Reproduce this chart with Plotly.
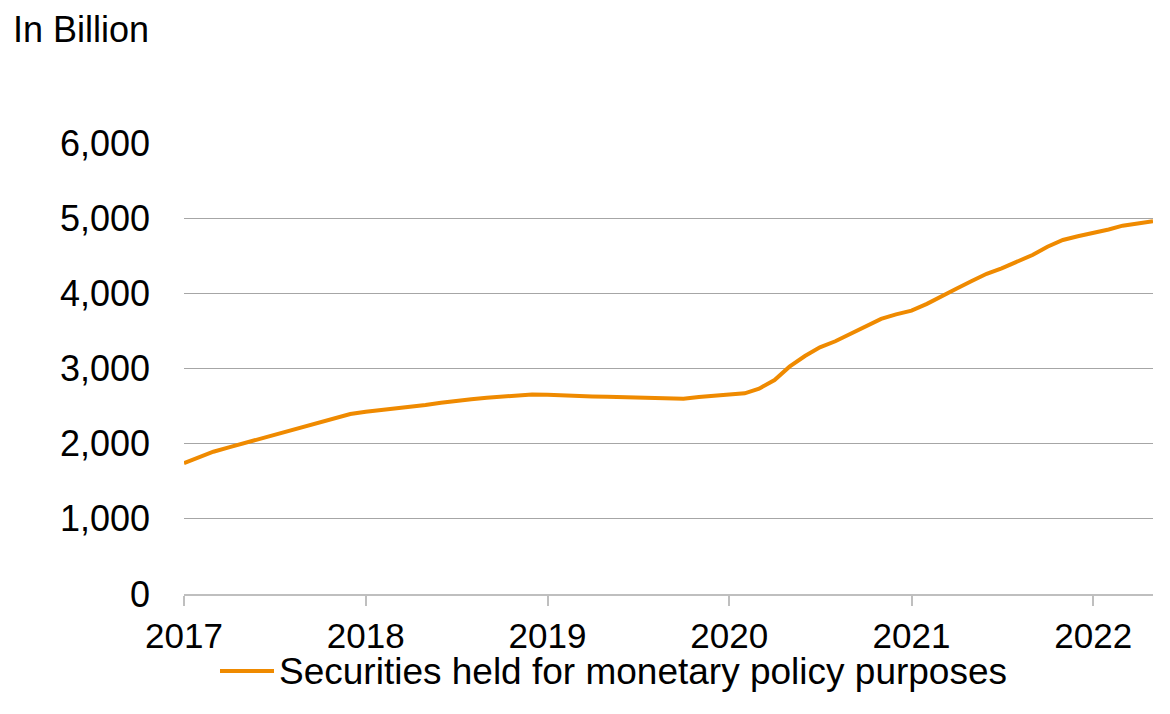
import plotly.graph_objects as go
import pandas as pd

months = pd.date_range("2017-01-01", "2022-05-01", freq="MS")
values = [
    1740, 1815, 1893, 1950, 2005, 2065, 2120, 2170, 2230, 2290, 2345, 2395,
    2425, 2445, 2470, 2495, 2515, 2545, 2572, 2590, 2612, 2625, 2643, 2655,
    2650, 2640, 2625, 2628, 2625, 2620, 2618, 2612, 2605, 2598, 2622, 2643,
    2655, 2670, 2732, 2847, 3024, 3166, 3282, 3362, 3460, 3560, 3660, 3720,
    3770, 3860, 3960, 4060, 4160, 4260, 4333, 4420, 4510, 4620, 4710, 4760,
    4800, 4850, 4900, 4935, 4960,
]
series_name = "Securities held for monetary policy purposes"
y_title = "In Billion"

FONT = "Liberation Sans, Arial, sans-serif"
LINE_COLOR = "#EF8A00"

fig = go.Figure()
fig.add_trace(go.Scatter(
    x=months, y=values, mode="lines", name=series_name,
    line=dict(color=LINE_COLOR, width=4), showlegend=False,
))

# plot area: x 184..1153, y 143..594 (page offset 8px)
def px_x(x):
    return (x - 184) / 969.0

def px_y(y):
    return (594 - y) / 451.0

LEG_Y = 671

fig.update_layout(
    width=1162, height=706,
    margin=dict(l=176, r=17, t=135, b=120),
    paper_bgcolor="white", plot_bgcolor="white",
    font=dict(family=FONT, size=36, color="black"),
    showlegend=False,
    annotations=[
        dict(text=y_title, xref="paper", yref="paper", x=px_x(12), y=px_y(8),
             xanchor="left", yanchor="top", showarrow=False, borderpad=0,
             font=dict(size=36, family=FONT)),
        dict(text=series_name, xref="paper", yref="paper", x=px_x(278), y=px_y(LEG_Y),
             xanchor="left", yanchor="middle", showarrow=False, borderpad=0,
             font=dict(size=37, family=FONT)),
    ],
    shapes=[
        dict(type="line", xref="paper", yref="paper",
             x0=px_x(220), x1=px_x(274), y0=px_y(LEG_Y), y1=px_y(LEG_Y),
             line=dict(color=LINE_COLOR, width=4)),
    ],
)
fig.update_xaxes(
    type="date", range=["2017-01-01", "2022-05-01"],
    tick0="2017-01-01", dtick="M12", tickformat="%Y",
    showgrid=False, showline=True, linecolor="#BFBFBF", linewidth=1.5,
    ticks="outside", ticklen=10, tickcolor="#BFBFBF", tickwidth=1.5,
    zeroline=False, tickfont=dict(size=35),
)
fig.update_yaxes(
    range=[0, 6000], dtick=1000, tickformat=",d",
    showgrid=True, gridcolor="#A6A6A6", gridwidth=1,
    showline=False, zeroline=False, ticks="", ticklabelstandoff=33,
)

fig.write_html("out.html")
